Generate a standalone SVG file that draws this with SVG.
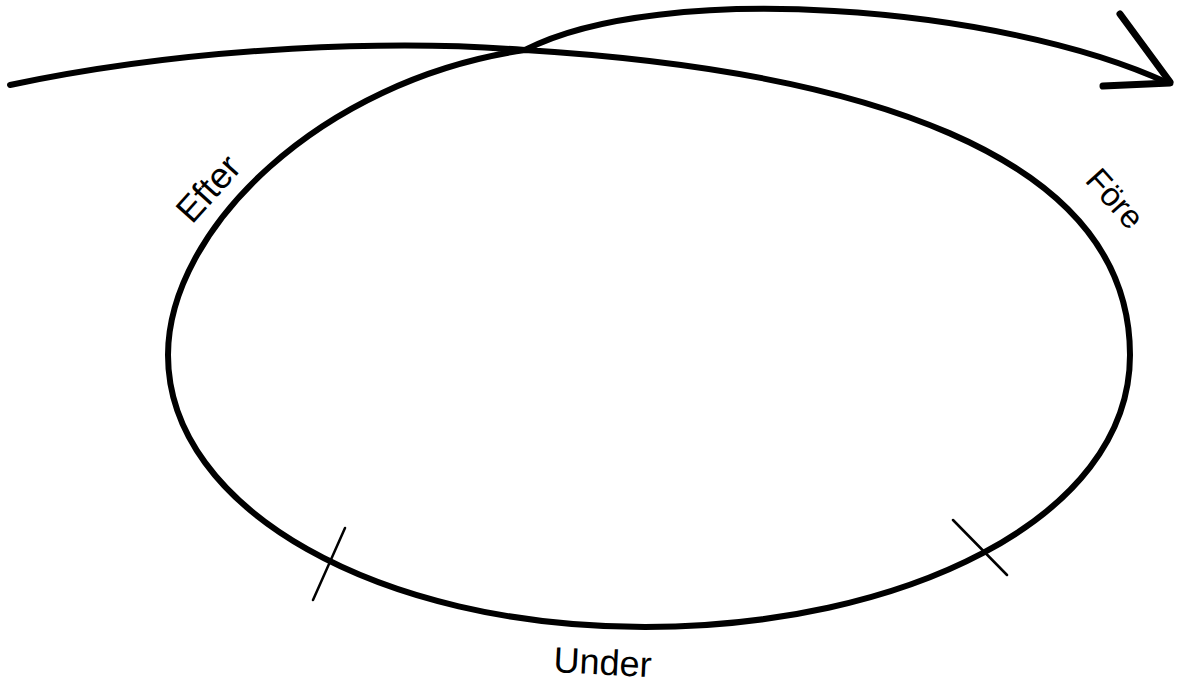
<svg xmlns="http://www.w3.org/2000/svg" width="1181" height="686" viewBox="0 0 1181 686">
<style>
.stroke{fill:none;stroke:#000;stroke-linecap:round;stroke-linejoin:round}
.lbl{font-family:"Liberation Sans",Arial,sans-serif;fill:#000}
</style>
<rect width="1181" height="686" fill="#fff"/>
<g id="connectors">
<path class="stroke" stroke-width="6" d="M10,85 C200,45 400,40 525,50 C850,70 1130,150 1130,355 C1130,520 900,627 645,627 C380,627 168,510 168,355 C168,230 320,80 525,50 C660,-20 1000,5 1168,83"/>
<path class="stroke" stroke-width="7" d="M1120,14 L1170,82 M1103,86 L1170,83"/>
<path class="stroke" stroke-width="2.5" d="M345,528 L313,600 M953,520 L1007,575"/>
</g>
<g id="label-efter"><text class="lbl" font-size="36" transform="translate(192,225) rotate(-48)">Efter</text></g>
<g id="label-fore"><text class="lbl" font-size="33" transform="translate(1084,181) rotate(48)">Före</text></g>
<g id="label-under"><text class="lbl" font-size="36" transform="translate(553,672) rotate(3)">Under</text></g>
</svg>
